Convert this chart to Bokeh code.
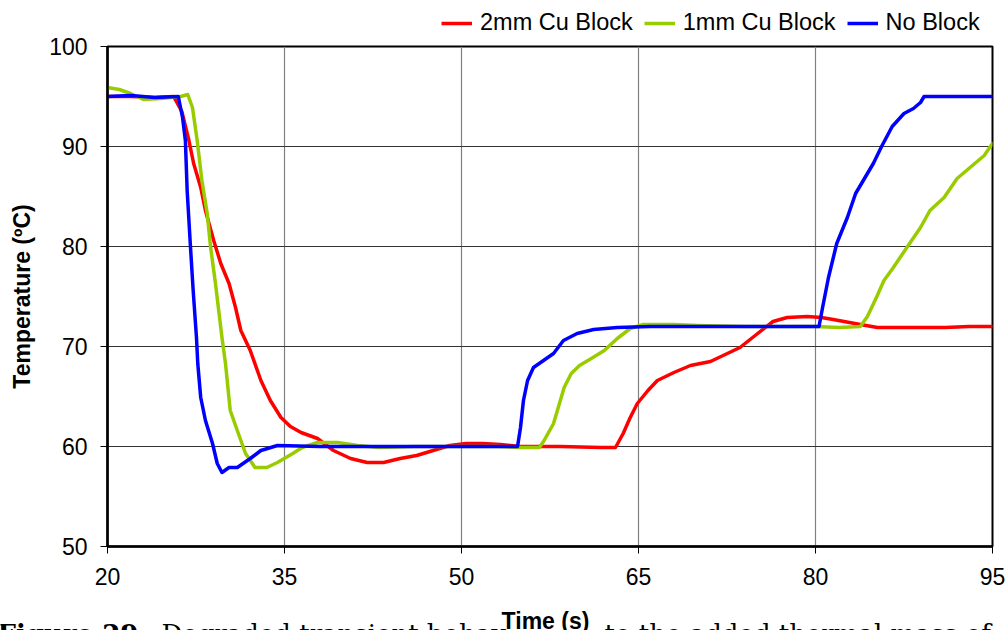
from bokeh.plotting import figure
from bokeh.models import Legend, LegendItem, FixedTicker, Label, Range1d
from bokeh.layouts import column
from bokeh.embed import file_html
from bokeh.resources import INLINE

# ---- data ----
block2_t = [20, 22, 24, 25.6, 26.3, 26.9, 27.3, 27.9, 28.3, 29.0, 29.6, 30.3, 30.85, 31.3, 32.1, 33.0,
            33.8, 34.7, 35.5, 36.4, 37.8, 39.15, 40.6, 42.0, 43.4, 44.8, 46.2, 47.6, 49.0, 50.4, 51.8,
            53.3, 55.0, 58.4, 61.8, 63.05, 63.7, 64.3, 64.9, 65.8, 66.6, 68.0, 69.4, 71.1, 73.6, 75.1,
            76.4, 77.6, 79.3, 80.5, 81.5, 83.8, 85.25, 88, 91, 93, 95]
block2_T = [95, 95, 94.9, 95, 93.5, 90.6, 88.3, 85.9, 83.6, 80.6, 78.3, 76.3, 73.9, 71.6, 69.6, 66.6,
            64.6, 62.9, 62.0, 61.4, 60.8, 59.6, 58.8, 58.4, 58.4, 58.8, 59.1, 59.6, 60.1, 60.3, 60.3,
            60.2, 60.0, 60.0, 59.9, 59.9, 61.3, 62.9, 64.3, 65.6, 66.6, 67.4, 68.1, 68.5, 69.9, 71.3,
            72.5, 72.9, 73.0, 72.9, 72.7, 72.2, 71.9, 71.9, 71.9, 72.0, 72.0]

block1_t = [20, 21, 21.95, 23.05, 24.5, 26.2, 26.8, 27.2, 27.6, 28.0, 28.45, 28.73, 29.15, 29.7, 30.0,
            30.4, 31.0, 31.7, 32.5, 33.5, 34.4, 35.7, 36.5, 37.8, 39.5, 41.2, 43, 46, 50, 53, 55, 56.6,
            57.0, 57.8, 58.3, 58.7, 59.3, 60.0, 61.0, 62.1, 63.2, 64.3, 65.4, 68, 70, 74, 78, 80, 82,
            83.8, 84.4, 85.2, 85.8, 86.6, 87.8, 88.9, 89.7, 90.9, 92.0, 93.1, 94.3, 95]
block1_T = [95.9, 95.7, 95.3, 94.7, 94.8, 95.0, 95.2, 93.9, 90.6, 86.6, 83.3, 80.0, 76.3, 70.9, 68.3,
            63.6, 61.6, 59.3, 57.9, 57.9, 58.4, 59.3, 59.9, 60.4, 60.4, 60.1, 59.9, 60.0, 60.0, 60.0,
            59.9, 59.9, 60.6, 62.3, 64.3, 65.9, 67.3, 68.1, 68.8, 69.6, 70.8, 71.8, 72.2, 72.2, 72.1,
            72.0, 72.0, 72.0, 71.9, 72.0, 73.0, 75.0, 76.6, 77.9, 80.0, 81.9, 83.6, 84.9, 86.8, 87.9,
            89.1, 90.3]

noblock_t = [20, 22, 24, 26.0, 26.36, 26.6, 26.75, 27.03, 27.26, 27.54, 27.65, 27.9, 28.3, 28.9, 29.3,
             29.7, 30.3, 31.0, 32.1, 33.0, 34.4, 38, 42, 46, 50, 54.75, 55.0, 55.25, 55.6, 56.1, 56.95,
             57.8, 58.64, 59.8, 61.2, 63.2, 66, 70, 74, 78, 80.3, 80.6, 81.1, 81.8, 82.7, 83.4, 84.2,
             84.9, 85.6, 86.5, 87.5, 88.3, 88.9, 89.2, 91, 93, 95]
noblock_T = [95, 95.1, 94.9, 95, 92.9, 90.6, 85.6, 80.0, 75.6, 70.9, 68.3, 64.9, 62.6, 60.3, 58.3,
             57.4, 57.9, 57.9, 58.8, 59.6, 60.1, 60, 60, 60, 60, 60, 61.9, 64.6, 66.6, 67.9, 68.6,
             69.3, 70.6, 71.3, 71.7, 71.9, 72, 72, 72, 72, 72, 73.9, 76.9, 80.3, 82.9, 85.3, 86.9,
             88.3, 90.0, 92.0, 93.3, 93.8, 94.4, 95, 95, 95, 95]

x_ticks = [20, 35, 50, 65, 80, 95]
y_ticks = [50, 60, 70, 80, 90, 100]
series_names = ["2mm Cu Block", "1mm Cu Block", "No Block"]
series_colors = ["#FF0000", "#99CC00", "#0000FF"]

series_t = [block2_t, block1_t, noblock_t]
series_T = [block2_T, block1_T, noblock_T]

FONT = "Liberation Sans"
SERIF = "DejaVu Serif"
W = 1007
LINE_W = 3.5


def bare_fig(h):
    f = figure(width=W, height=h, output_backend="svg", toolbar_location=None,
               x_axis_location=None, y_axis_location=None,
               x_range=Range1d(0, W), y_range=Range1d(0, h),
               min_border_left=0, min_border_right=0, min_border_top=0, min_border_bottom=0)
    f.frame_align = False
    f.outline_line_color = None
    f.xgrid.visible = False
    f.ygrid.visible = False
    f.background_fill_color = "white"
    f.border_fill_color = "white"
    return f


# ---------- legend strip (series drawn out of view; only their legend entries show) ----------
LEG_H = 36
leg = bare_fig(LEG_H)
leg_renderers = [leg.line(t, T, line_color=c, line_width=LINE_W)
                 for t, T, c in zip(series_t, series_T, series_colors)]
legend = Legend(items=[LegendItem(label=n, renderers=[r]) for n, r in zip(series_names, leg_renderers)],
                orientation="horizontal", location=(441, 0),
                glyph_width=31, glyph_height=24, label_standoff=8, spacing=11,
                padding=0, margin=0, border_line_color=None, background_fill_alpha=0,
                label_text_font=FONT, label_text_font_size="23.5px", label_text_color="black")
leg.add_layout(legend, "center")

# ---------- main chart ----------
MAIN_H = 564
p = figure(width=W, height=MAIN_H, output_backend="svg", toolbar_location=None,
           x_range=Range1d(20, 95), y_range=Range1d(50, 100),
           min_border_left=107, min_border_right=15, min_border_top=10, min_border_bottom=54)
p.frame_align = False
p.background_fill_color = "white"
p.border_fill_color = "white"
p.outline_line_color = "black"
p.outline_line_width = 2

for t, T, c in zip(series_t, series_T, series_colors):
    p.line(t, T, line_color=c, line_width=LINE_W, line_join="round", line_cap="round")

p.xaxis.ticker = FixedTicker(ticks=x_ticks)
p.yaxis.ticker = FixedTicker(ticks=y_ticks)
for ax in (p.xaxis[0], p.yaxis[0]):
    ax.axis_line_color = "black"
    ax.axis_line_width = 2.5
    ax.major_tick_out = 7
    ax.major_tick_in = 0
    ax.minor_tick_out = 0
    ax.minor_tick_in = 0
    ax.major_tick_line_color = "black"
    ax.major_label_text_font = FONT
    ax.major_label_text_font_size = "23px"
    ax.major_label_text_color = "black"
p.xaxis.major_label_standoff = 14
p.yaxis.major_label_standoff = 13
p.yaxis.axis_label = "Temperature (ºC)"
p.yaxis.axis_label_text_font = FONT
p.yaxis.axis_label_text_font_style = "bold"
p.yaxis.axis_label_text_font_size = "23px"
p.yaxis.axis_label_text_color = "black"
p.yaxis.axis_label_standoff = 11

p.xgrid.grid_line_color = "#808080"
p.xgrid.grid_line_width = 1.2
p.ygrid.grid_line_color = "#333333"
p.ygrid.grid_line_width = 1.2

# ---------- x-axis title strip (with the cut-off document caption) ----------
BOT_H = 630 - LEG_H - MAIN_H
bot = bare_fig(BOT_H)
bot.add_layout(Label(x=545, y=BOT_H - 7, text="Time (s)",
                     text_font=FONT, text_font_style="bold", text_font_size="23px",
                     text_align="center", text_baseline="top", text_color="black"))
CAP_Y = BOT_H - 33
bot.add_layout(Label(x=-3, y=CAP_Y, text="Figure 29",
                     text_font=SERIF, text_font_style="bold", text_font_size="26px",
                     text_align="left", text_baseline="alphabetic", text_color="black"))
bot.add_layout(Label(x=146, y=CAP_Y, text="–",
                     text_font=SERIF, text_font_size="26px",
                     text_align="left", text_baseline="alphabetic", text_color="black"))
bot.add_layout(Label(x=161, y=CAP_Y, text="Degraded transient behav",
                     text_font=SERIF, text_font_size="26px",
                     text_align="left", text_baseline="alphabetic", text_color="black"))
bot.add_layout(Label(x=604, y=CAP_Y, text="to the added thermal mass of",
                     text_font=SERIF, text_font_size="26px",
                     text_align="left", text_baseline="alphabetic", text_color="black"))

layout = column(leg, p, bot, spacing=0)
open("out.html", "w").write(file_html(layout, INLINE))
